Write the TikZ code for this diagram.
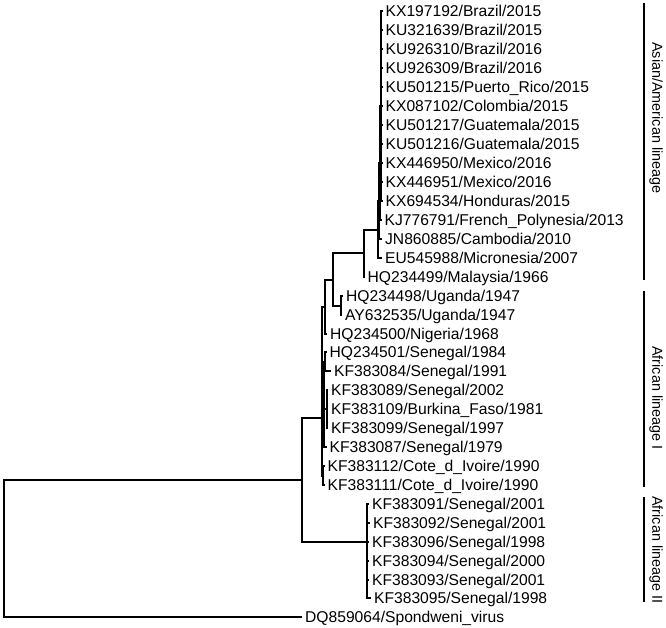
\documentclass[tikz,border=0pt]{standalone}
\usepackage{fontspec}
\setmainfont{Liberation Sans}
\definecolor{ink}{RGB}{0,0,0}

\begin{document}
\begin{tikzpicture}[
  x=0.02cm, y=-0.02cm, ink,
  branch/.style={line width=1.15pt, line join=miter},
  lbar/.style={line width=0.8pt},
  taxon/.style={anchor=west, inner xsep=1.6pt, inner ysep=0pt,
                font=\fontsize{8.9}{10}\selectfont, text height=6.3pt, text depth=0pt},
  lineage/.style={rotate=-90, inner sep=0pt, font=\fontsize{8.2}{9.5}\selectfont},
]
\useasboundingbox (0,0) rectangle (666,627);

%% ---- taxa ----
\node[taxon] (t1)  at (382.5,11)  {KX197192/Brazil/2015};
\node[taxon] (t2)  at (382.5,30)  {KU321639/Brazil/2015};
\node[taxon] (t3)  at (382.5,49)  {KU926310/Brazil/2016};
\node[taxon] (t4)  at (382.5,68)  {KU926309/Brazil/2016};
\node[taxon] (t5)  at (382.5,87)  {KU501215/Puerto\_Rico/2015};
\node[taxon] (t6)  at (382.5,106) {KX087102/Colombia/2015};
\node[taxon] (t7)  at (382.5,125) {KU501217/Guatemala/2015};
\node[taxon] (t8)  at (382.5,144) {KU501216/Guatemala/2015};
\node[taxon] (t9)  at (382.5,163) {KX446950/Mexico/2016};
\node[taxon] (t10) at (382.5,182) {KX446951/Mexico/2016};
\node[taxon] (t11) at (382.5,201) {KX694534/Honduras/2015};
\node[taxon] (t12) at (381.5,220) {KJ776791/French\_Polynesia/2013};
\node[taxon] (t13) at (382,239)   {JN860885/Cambodia/2010};
\node[taxon] (t14) at (382,258)   {EU545988/Micronesia/2007};
\node[taxon] (t15) at (364.5,277) {HQ234499/Malaysia/1966};
\node[taxon] (t16) at (343,296)   {HQ234498/Uganda/1947};
\node[taxon] (t17) at (342,315)   {AY632535/Uganda/1947};
\node[taxon] (t18) at (327,334)   {HQ234500/Nigeria/1968};
\node[taxon] (t19) at (326.5,352) {HQ234501/Senegal/1984};
\node[taxon] (t20) at (331,371)   {KF383084/Senegal/1991};
\node[taxon] (t21) at (328,390)   {KF383089/Senegal/2002};
\node[taxon] (t22) at (328,409)   {KF383109/Burkina\_Faso/1981};
\node[taxon] (t23) at (328,428)   {KF383099/Senegal/1997};
\node[taxon] (t24) at (326.5,447) {KF383087/Senegal/1979};
\node[taxon] (t25) at (324.5,466) {KF383112/Cote\_d\_Ivoire/1990};
\node[taxon] (t26) at (324.5,485) {KF383111/Cote\_d\_Ivoire/1990};
\node[taxon] (t27) at (369,504)   {KF383091/Senegal/2001};
\node[taxon] (t28) at (370,523)   {KF383092/Senegal/2001};
\node[taxon] (t29) at (369,542)   {KF383096/Senegal/1998};
\node[taxon] (t30) at (369,561)   {KF383094/Senegal/2000};
\node[taxon] (t31) at (369,580)   {KF383093/Senegal/2001};
\node[taxon] (t32) at (371,598)   {KF383095/Senegal/1998};
\node[taxon] (dq)  at (302,617)   {DQ859064/Spondweni\_virus};

%% ---- internal nodes ----
\coordinate (root) at (4,548.5);
\coordinate (ing)  at (302,480);
\coordinate (mid)  at (322,418);
\coordinate (n325) at (325,307);
\coordinate (n333) at (333,280);
\coordinate (ug)   at (341,305.5);
\coordinate (n364) at (364,253);
\coordinate (c0)   at (378,229.5);
\coordinate (c1)   at (379,201);
\coordinate (c2)   at (380,163);
\coordinate (c3)   at (381,106);
\coordinate (f1)   at (324,404);
\coordinate (f1a)  at (325,361.5);
\coordinate (f1b)  at (327,409);
\coordinate (ci)   at (323,475.5);
\coordinate (af2)  at (367,542);

%% ---- branches ----
\draw[branch] (root) |- (ing);
\draw[branch] (root) |- (dq.west);
\draw[branch] (ing) |- (mid);
\draw[branch] (ing) |- (af2);

\draw[branch] (mid) |- (n325);
\draw[branch] (mid) |- (f1);
\draw[branch] (mid) |- (ci);
\draw[branch] (n325) |- (n333);
\draw[branch] (n325) |- (t18.west);
\draw[branch] (n333) |- (n364);
\draw[branch] (n333) |- (ug);
\draw[branch] (ug) |- (t16.west);
\draw[branch] (ug) |- (t17.west);
\draw[branch] (n364) |- (t15.west);
\draw[branch] (n364) |- (c0);
\draw[branch] (c0) |- (c1);
\draw[branch] (c0) |- (t14.west);
\draw[branch] (c1) |- (c2);
\draw[branch] (c1) |- (t13.west);
\draw[branch] (c2) |- (c3);
\draw[branch] (c2) |- (t12.west);
\foreach \i in {1,...,11}
  \draw[branch] (c3) |- (t\i.west);

\draw[branch] (f1) |- (f1a);
\draw[branch] (f1) |- (f1b);
\draw[branch] (f1) |- (t24.west);
\draw[branch] (f1a) |- (t19.west);
\draw[branch] (f1a) |- (t20.west);
\foreach \i in {21,22,23}
  \draw[branch] (f1b) |- (t\i.west);
\draw[branch] (ci) |- (t25.west);
\draw[branch] (ci) |- (t26.west);
\foreach \i in {27,...,32}
  \draw[branch] (af2) |- (t\i.west);

%% ---- lineage bars ----
\coordinate (asTop) at (644,3);
\coordinate (asBot) at (644,280);
\coordinate (a1Top) at (644,291);
\coordinate (a1Bot) at (644,487);
\coordinate (a2Top) at (644,497);
\coordinate (a2Bot) at (644,602);
\draw[lbar] (asTop) -- (asBot);
\draw[lbar] (a1Top) -- (a1Bot);
\draw[lbar] (a2Top) -- (a2Bot);
\node[lineage] (asLab) at (656,118) {Asian/American lineage};
\node[lineage] (a1Lab) at (656,398) {African lineage I};
\node[lineage] (a2Lab) at (656,550) {African lineage II};

\end{tikzpicture}
\end{document}
